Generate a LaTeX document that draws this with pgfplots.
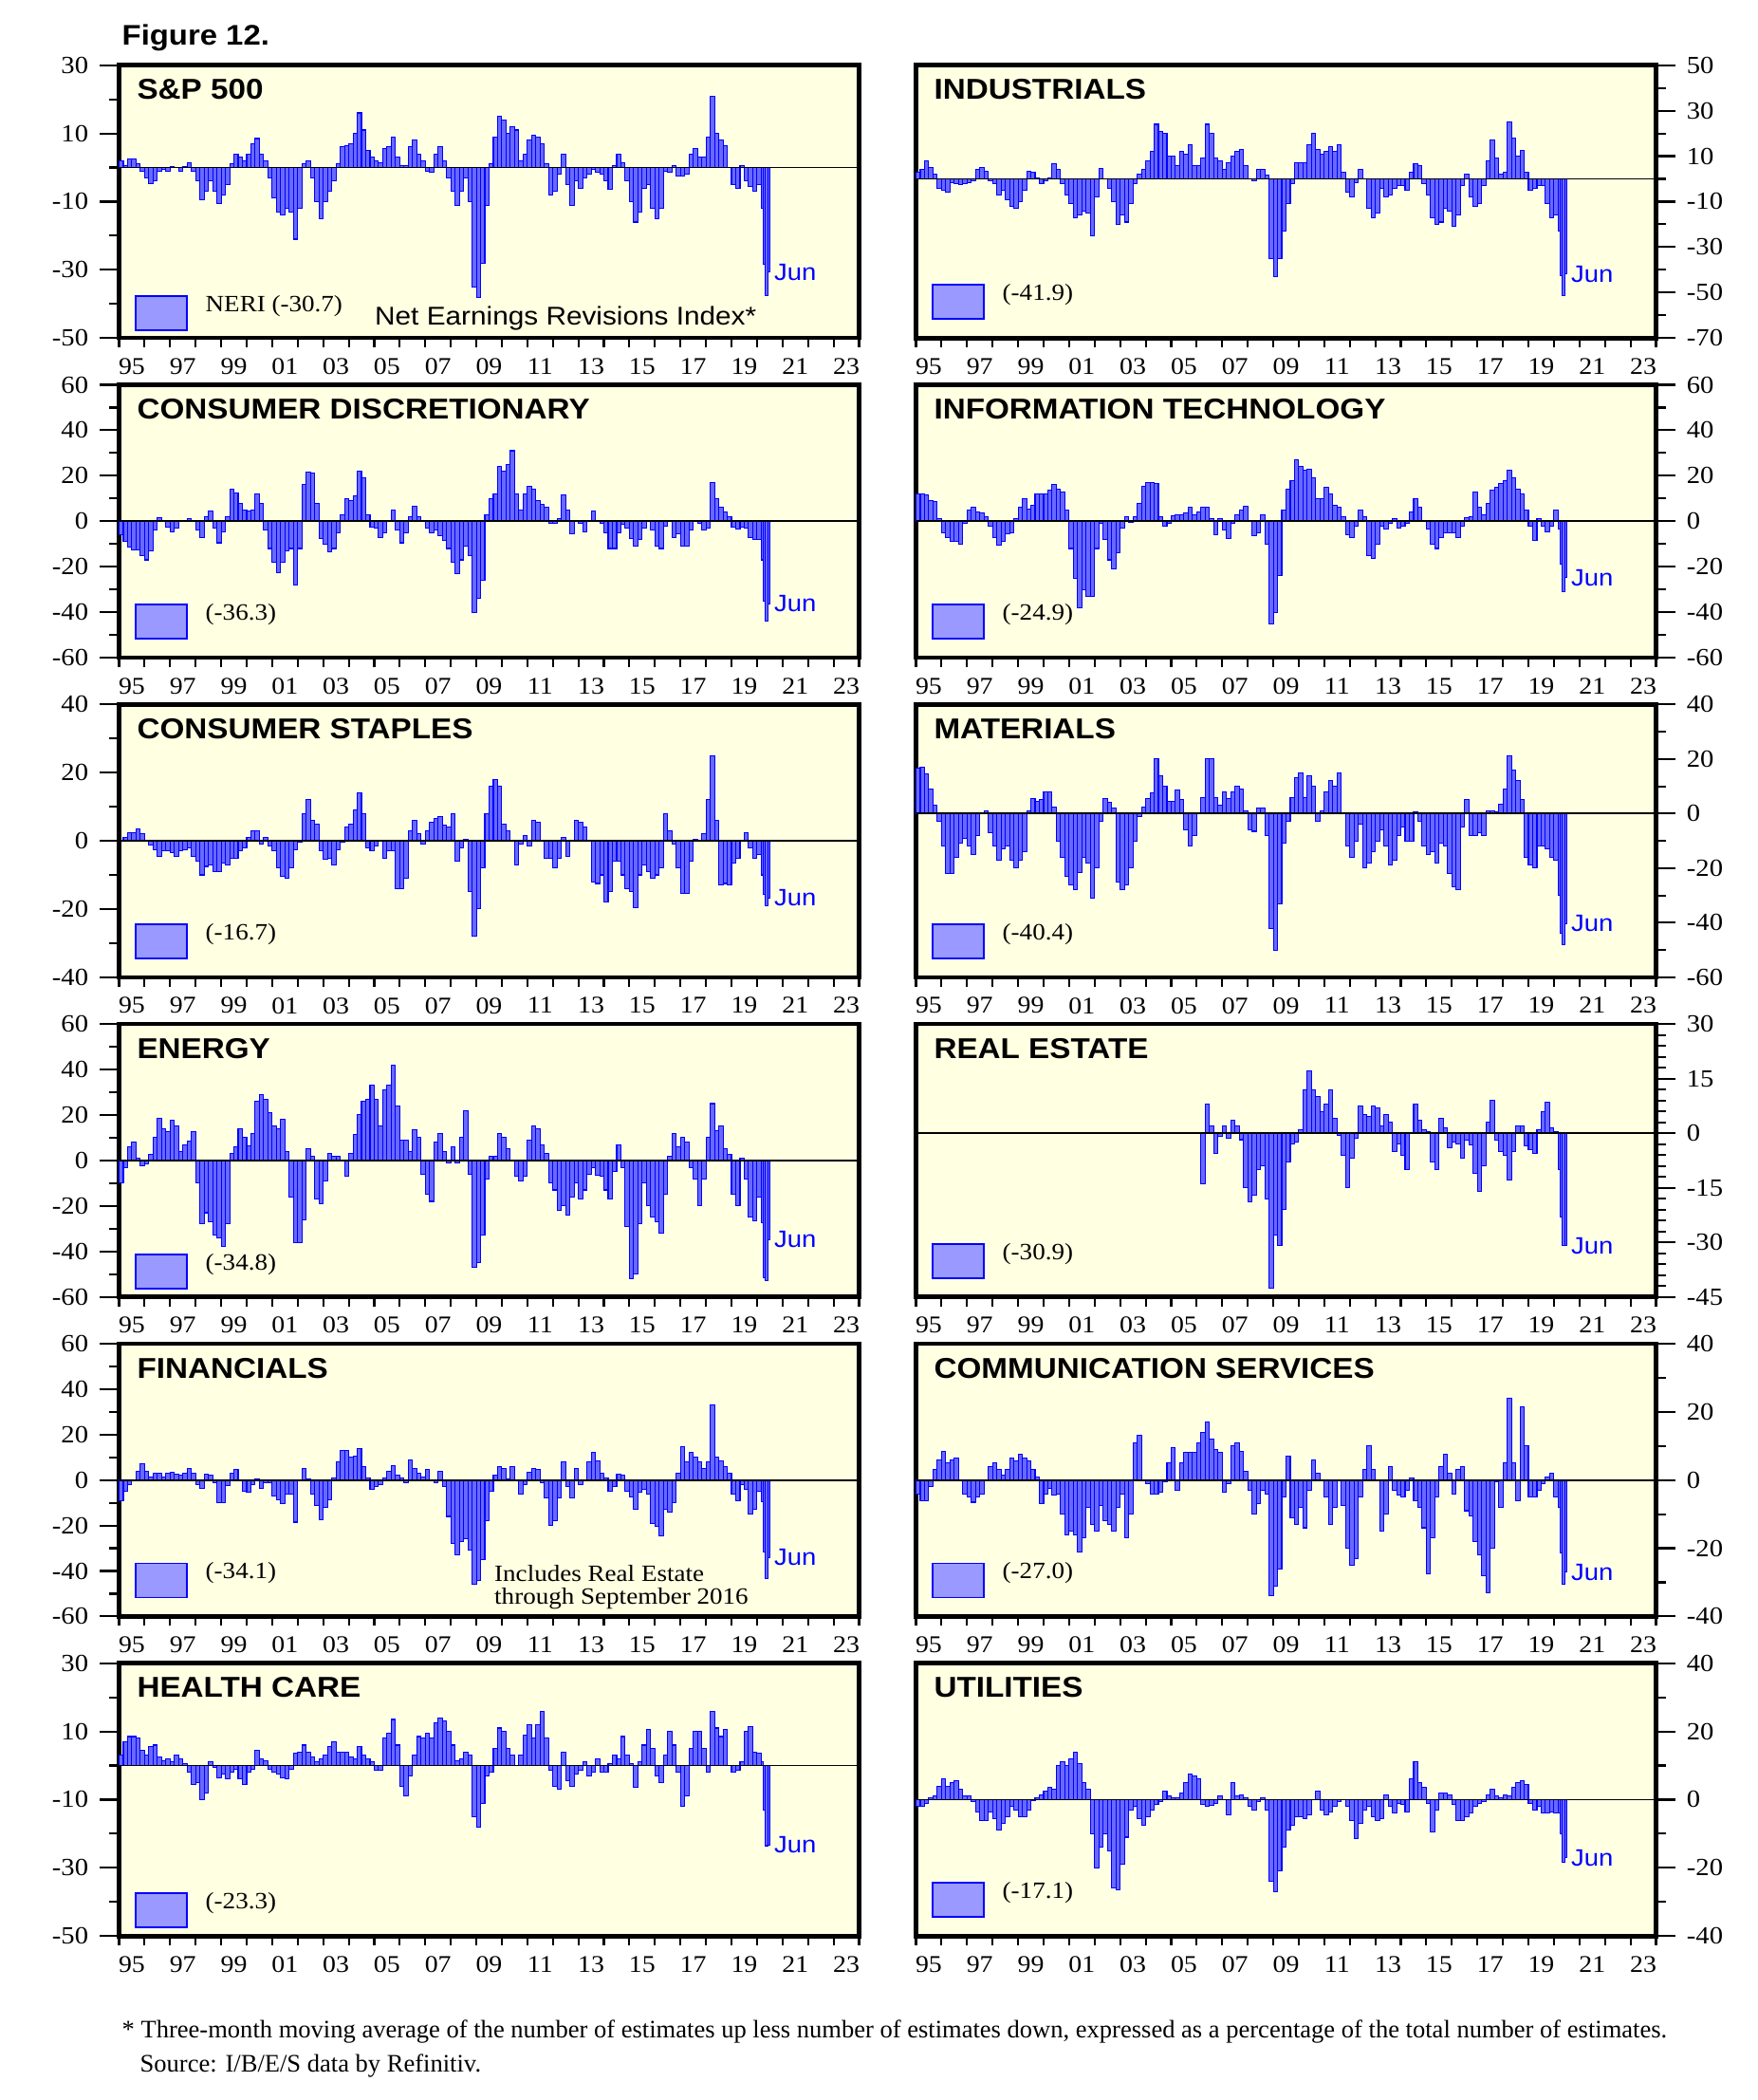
\documentclass[border=0pt]{standalone}
\usepackage{fontspec}
\setmainfont{Liberation Serif}[FakeStretch=1.1]
\newfontfamily\arial{Liberation Sans}[FakeStretch=1.1]
\newfontfamily\plainserif{Liberation Serif}
\usepackage{pgfplots}
\usepackage{pgfplotstable}
\pgfplotsset{compat=1.18}
\definecolor{bgy}{RGB}{255,255,226}
\definecolor{barfill}{RGB}{105,105,255}
\definecolor{legfill}{RGB}{153,153,255}

% bimonthly values, m = 0,2,...,300 (Jan 1995 ... Jan 2020), last row closes the interval
\pgfplotstableread[row sep=\\]{v\\
2\\0.5\\2.5\\2.5\\1\\-1\\
-3\\-4.8\\-4\\-1\\-0.5\\-1\\
0.3\\0\\-1\\0.3\\1.5\\-1\\
-4\\-9.5\\-7\\-4\\-7\\-10.5\\
-8\\-5\\1\\4\\3\\2\\
4\\7\\8.5\\4\\2\\-3\\
-9\\-13\\-14\\-12\\-13\\-21\\
-12\\1\\2\\-3\\-10\\-15\\
-10\\-7\\-4\\1\\6\\6.5\\
7\\10\\16\\11\\5\\3\\
2\\1.5\\5.5\\6\\9\\3\\
0.5\\0.5\\6\\8\\4\\2\\
-1\\-1.5\\4\\6\\2\\-3\\
-7\\-11\\-7\\-3\\-10\\-35\\
-38\\-28\\-11\\1\\9\\15\\
14\\10\\12\\11\\2\\4\\
8\\9.5\\9\\7\\1\\-8\\
-7\\-2\\4\\-5\\-11\\-4\\
-6\\-3\\-2\\-0.5\\-1.5\\-2\\
-4\\-6.5\\0.5\\4\\1.5\\-4\\
-10\\-16\\-13\\-6\\-5\\-12\\
-15\\-12\\-1\\-1.5\\0.5\\-2.5\\
-2.5\\-2\\4\\5.5\\3\\3\\
9\\21\\10\\8\\6.5\\0\\
-5\\-6\\0.5\\-4\\-5.5\\-7\\
-5\\0\\}\tSP

\pgfplotstableread[row sep=\\]{v\\
3\\4\\8\\5\\2\\-4\\
-5\\-6\\-1.5\\-2\\-2.5\\-2\\
-1.5\\-1\\4\\5\\3.5\\-1\\
-2\\-7\\-5\\-9\\-12\\-13\\
-10\\-5\\3.5\\3\\0.5\\-2\\
-1\\0.5\\6.5\\4\\-2\\-7\\
-11\\-17\\-16\\-14\\-15\\-25\\
-8\\4.5\\0\\-4\\-10\\-20\\
-16\\-19\\-11\\-2\\2\\4\\
8\\12\\24\\21\\20\\10\\
10\\6\\12\\11\\15\\6\\
6\\9\\24\\20\\9\\8\\
4\\7\\10\\12\\13\\6\\
0\\-1\\4\\4\\1.5\\-35\\
-43\\-35\\-23\\-11\\-2\\7\\
7\\7\\15\\20\\13\\11\\
12\\14\\12\\15\\3\\-6\\
-8\\-1.5\\4\\0\\-13\\-17\\
-15\\-4\\-8\\-7\\-4\\-3\\
-3\\-5\\3\\6.5\\6\\-2\\
-7\\-17\\-20\\-19\\-13\\-14\\
-21\\-16\\-3\\2\\-8\\-12\\
-11\\-3\\8\\17\\9\\2\\
3\\25\\18\\10\\12.5\\3\\
-5\\-4\\-3\\-3\\-11\\-17\\
-16\\0\\}\tIN

\pgfplotstableread[row sep=\\]{v\\
-6\\-9\\-11.5\\-12.5\\-12.5\\-15\\
-17\\-13\\-4\\1.5\\0\\-2.5\\
-4.5\\-3\\0\\0\\1\\0.5\\
-4\\-7\\2\\4.5\\-3\\-9.5\\
-4.5\\2\\14\\12.5\\8\\5\\
4.5\\5\\12\\8\\-4\\-12\\
-18\\-22.5\\-18\\-13\\-12\\-28\\
-12\\16\\21.5\\21\\8\\-7.5\\
-10\\-13.5\\-12\\-5\\3\\10\\
9\\11\\22\\19\\3\\-2.5\\
-3\\-7\\-5\\0\\5\\-4\\
-9.5\\-5\\2\\6.5\\2\\0\\
-3\\-5\\-4\\-6.5\\-8.5\\-12\\
-18\\-23\\-17\\-11\\-15\\-40\\
-34\\-26\\3\\10\\12\\24\\
22\\25\\31\\12\\5\\12\\
15.5\\14\\9\\7.5\\6\\-1\\
-1\\1\\11.5\\5\\-5.5\\0.5\\
-1\\-4.5\\0.5\\4.5\\0.5\\-1\\
-5\\-12\\-12\\-5\\-1.5\\-3\\
-7.5\\-11\\-8\\-3\\0.5\\-4\\
-11\\-12\\-2\\0.5\\-7\\-5.5\\
-11\\-11\\-4\\0.5\\-1\\-4\\
-3\\17\\10\\6\\4\\2\\
-2.5\\-3.5\\-2.5\\-3\\-7\\-8\\
-8\\0\\}\tCD

\pgfplotstableread[row sep=\\]{v\\
12\\12\\11.5\\9\\8.5\\1\\
-5\\-7\\-9\\-9\\-10\\-1\\
5\\6\\4\\3.5\\2\\-2\\
-7\\-10.5\\-9\\-5.5\\-5\\1\\
6\\10\\5.5\\7\\12\\12\\
12\\13.5\\16\\14\\13\\5\\
-12\\-25\\-38\\-30\\-33\\-33\\
-12\\-1\\-8\\-17\\-21\\-14\\
-3\\2\\-0.5\\2\\8\\15.5\\
17\\17\\16.5\\2\\-2\\-1\\
2.5\\3\\3\\3.5\\6\\3\\
4\\6\\6\\1\\-6\\1\\
-4\\-7.5\\-1\\3\\5\\6.5\\
0\\-6.5\\-5\\3\\-10\\-45\\
-40\\-24\\5\\14\\18\\27\\
24\\22.5\\23\\19\\10\\10\\
15\\12\\7\\6\\2\\-6\\
-7\\-2\\5\\2\\-15\\-16.5\\
-10\\-2\\-3.5\\-1\\1\\-3\\
-2\\-1\\4\\10\\6\\0\\
-3.5\\-10\\-12\\-7\\-5\\-5\\
-5\\-7\\-2\\1.5\\2\\13\\
6\\3\\8\\13.5\\15\\16.5\\
18\\22.5\\19\\14\\12\\5\\
-2\\-8.5\\1\\-2\\-4.5\\-2\\
5\\0\\}\tIT

\pgfplotstableread[row sep=\\]{v\\
0\\1\\2.5\\2.5\\3.5\\2\\
0\\-1.2\\-2.5\\-4.5\\-3\\-3\\
-3.5\\-4.5\\-3\\-2.5\\-2\\-4.5\\
-6\\-10\\-7.5\\-7\\-9\\-9\\
-6.5\\-7\\-5\\-5\\-3\\-2\\
1\\3\\3\\-1\\1\\-1.5\\
-3\\-8\\-10.5\\-11\\-8\\-2.5\\
-0.5\\8\\12\\6\\5\\-3\\
-5.5\\-5\\-7\\-2.5\\-0.5\\4\\
5\\9\\14\\8\\-2\\-3\\
-1.5\\0\\-5\\-3\\-3\\-14\\
-14\\-11\\3\\6\\2\\-1\\
3\\5.5\\6.5\\7\\4.5\\4\\
8\\-6\\-2\\0.5\\-15\\-28\\
-20\\-8\\8\\16\\18\\16\\
5\\3\\0\\-7\\-1\\1.5\\
-1.5\\6\\5.5\\0\\-5\\-5\\
-8\\-5\\1\\-4.5\\0\\6\\
5.5\\4\\0\\-12\\-12.5\\-10\\
-18\\-15\\-6\\-6\\-10\\-14\\
-15\\-19.5\\-10\\-7\\-9\\-11\\
-10\\-8\\8\\3\\-1\\-8\\
-15.5\\-15.5\\-6\\0.5\\0\\2\\
12\\25\\6\\-13\\-12.5\\-13\\
-6.5\\-5\\0\\2.5\\-2\\-5\\
-4\\0\\}\tCS

\pgfplotstableread[row sep=\\]{v\\
16.5\\17\\14.5\\9\\3\\-3\\
-12\\-22\\-22\\-16\\-11\\-9\\
-12\\-15\\-8\\0\\1\\-7\\
-12\\-17\\-13\\-12\\-17\\-20\\
-17\\-14\\1\\5.5\\4.5\\5\\
8\\8\\2.5\\-10\\-16\\-23\\
-26\\-28\\-21.5\\-16\\-18\\-31\\
-20\\-3\\5.5\\4\\2\\-25\\
-28\\-26\\-20\\-10\\-1\\2.5\\
5.5\\7.5\\20\\14\\10\\4.5\\
4.5\\8.5\\5\\-6\\-12\\-8\\
0\\6\\20\\20\\6\\3\\
8\\5.5\\8\\10\\9\\1\\
-6\\-6.5\\2\\2\\-8\\-42\\
-50\\-33\\-11\\-3\\6\\13\\
15\\6\\14\\10\\-3\\1\\
8\\12\\10\\15\\0\\-12\\
-16\\-10\\-4\\-20\\-18\\-14\\
-10\\-6\\-12\\-19\\-17\\-8\\
-5\\-10\\-10\\0.5\\-3\\-12\\
-15\\-14\\-18\\-11\\-12\\-22\\
-27\\-28\\-5\\5\\-8\\-8\\
-7\\-8\\1\\1\\0.5\\3.5\\
9\\21\\16\\12\\5\\-16\\
-19\\-20\\-12\\-12\\-13\\-16\\
-17\\0\\}\tMA

\pgfplotstableread[row sep=\\]{v\\
-10\\-3\\6\\8\\1\\-2.5\\
-1.5\\2.5\\10\\18.5\\14\\12.5\\
17.5\\15\\4\\7\\8.5\\12.5\\
-10\\-28\\-23\\-27\\-33\\-34\\
-38\\-28\\3\\6\\14\\10\\
6.5\\12\\26\\29\\27\\21\\
15\\14\\18\\4\\-16\\-36\\
-36\\-26\\5\\2\\-17\\-19\\
-9\\3\\2\\2\\0\\-7\\
3\\11.5\\20\\26\\27\\33\\
27\\15\\31\\33\\42\\24\\
9\\9\\4\\13.5\\10\\-6\\
-15\\-18\\8\\12\\4\\-1\\
6\\-1\\10\\22\\-6\\-47\\
-45\\-33\\-8\\2\\2\\12\\
10\\5\\0\\-7\\-9\\-7\\
9\\15\\14\\7\\3\\-10\\
-13\\-22\\-20\\-24\\-16\\-10\\
-17\\-13\\-6\\-3\\-6.5\\-7\\
-13\\-17\\-5\\7\\-3\\-29\\
-52\\-50\\-28\\-10\\-20\\-25\\
-27\\-32\\-15\\2\\12\\6\\
10\\8\\-3\\-8\\-20\\-8\\
10\\25\\13\\15\\5\\2.5\\
-15\\-20\\1\\-8\\-25\\-26.5\\
-16\\0\\}\tEN

% Real Estate starts at m = 134 (Mar 2006)
\pgfplotstableread[row sep=\\]{v\\
-14\\8\\2\\-5.5\\-1\\
2\\-1.5\\3.5\\2\\-1.8\\-15\\
-19\\-17\\-10\\-9\\-18\\-42.5\\
-28\\-31\\-21\\-8\\-3\\-2.5\\
1\\12\\17\\12\\10\\6\\
8\\12\\4\\-0.5\\-6\\-15\\
-7\\-1.5\\7.5\\5\\4.5\\7.5\\
7\\2\\5\\3\\-5\\-3\\
-6\\-10\\0\\8\\3.5\\1\\
0.5\\-8\\-10\\4\\1.5\\-4\\
-2.5\\-3\\-7\\-2\\-3.2\\-11\\
-16\\-9\\3\\9\\-2\\-5\\
-6\\-13\\-5\\2\\2\\-3.5\\
-4.5\\-5.5\\1\\6\\8.5\\1.5\\
0.5\\0\\}\tRE

\pgfplotstableread[row sep=\\]{v\\
-9\\-5\\-2\\-0.5\\4\\7\\
4\\1.5\\3\\3\\1.5\\3\\
3.5\\2.5\\2\\3\\5\\3\\
-2\\-3.5\\2.5\\2\\-1\\-10\\
-10\\-2.5\\3\\4.5\\0\\-5\\
-5.5\\-2\\0.5\\-3.5\\-1\\-1\\
-7\\-8.5\\-10.5\\-6\\-6\\-18.5\\
0\\5\\0.5\\-6\\-11\\-17.5\\
-12\\-8.5\\1\\8\\13\\13\\
10\\10.5\\14\\6\\1\\-4\\
-3\\-2\\1\\4\\6.5\\2\\
1\\-1\\9\\5\\3\\1.5\\
4.5\\0\\-1\\4\\-3\\-16\\
-28\\-33\\-27\\-26\\-31\\-46\\
-44\\-35\\-18\\-5\\2\\6\\
5\\0.5\\6\\0\\-6\\-2\\
3.5\\5\\4.5\\-1\\-8\\-20\\
-18\\-8\\8\\-3\\-8\\5\\
-2\\0\\8\\12\\8.5\\3\\
1\\-5\\-3\\2.5\\2\\-5\\
-7.5\\-13\\-5.5\\-4\\-6\\-19\\
-20.5\\-24.5\\-13\\-14\\-10\\3\\
14.5\\8\\12\\10\\8\\5\\
8\\33\\10\\8.5\\6\\3\\
-6\\-9\\-2\\-4\\-15\\-13\\
-5\\0\\}\tFI

\pgfplotstableread[row sep=\\]{v\\
-4\\-6\\-6\\-2\\3\\6\\
8.5\\5\\6\\6.5\\0\\-4\\
-5\\-6.5\\-5\\-4\\0\\4\\
5\\3\\1.5\\3\\6.5\\5.5\\
7.5\\6.5\\5.5\\3\\1\\-7\\
-4\\-2.5\\-4.5\\-4\\-10\\-16\\
-15\\-16\\-21\\-17\\-8\\-13\\
-15\\-7.5\\-12\\-13\\-15\\-8\\
-4\\-17\\-10\\11\\13\\0\\
-1\\-4\\-4\\-3.5\\-0.5\\5\\
9.5\\-3\\5\\8\\8\\8\\
11\\14\\17\\12\\9\\8\\
-3.5\\-1\\10\\11\\8.5\\2.5\\
-3\\-10\\-7\\-3\\-4\\-34\\
-31\\-26\\-5\\7\\-11\\-13\\
-8\\-14\\-3\\6\\2\\0\\
-5\\-13\\-8\\0\\-7.5\\-20\\
-25\\-23\\-5\\3\\10\\3\\
0\\-15\\-10\\4\\-3\\-4.5\\
-5\\-3\\0.5\\-6\\-8\\-14\\
-27.5\\-17\\-5\\4\\7.5\\2\\
-4\\3\\4\\-9\\-10.5\\-18\\
-22\\-28\\-33\\-20\\-0.5\\-8\\
5\\24\\5\\-6\\21.5\\10\\
-5\\-5\\-3\\-1\\1\\2\\
-5\\0\\}\tCO

\pgfplotstableread[row sep=\\]{v\\
3\\7\\8.5\\8.5\\8\\4.5\\
3\\5.5\\6\\2.5\\1.5\\2\\
1\\3\\2\\0.5\\-2\\-5.5\\
-5\\-10\\-8\\1\\-0.5\\-3.5\\
-2.5\\-4\\-2\\-1\\-4\\-5.5\\
-2\\-1\\4.5\\2\\1.5\\-1\\
-2\\-2.5\\-3.5\\-4\\-1\\3.5\\
4\\6\\4\\2.5\\1\\2\\
3\\5.5\\7\\4\\4\\4\\
2.5\\2\\5.5\\3\\2\\1\\
-1.5\\-1.5\\8\\9.5\\13.5\\6\\
-6\\-9\\-3\\3\\8.5\\8\\
9.5\\8\\12.5\\14\\13\\10\\
6\\1.5\\2\\4\\3\\-15\\
-18\\-11\\-3\\-2\\5\\11\\
10\\5\\3\\0\\3\\9\\
12\\8\\12\\16\\8\\-1.5\\
-6\\-7\\4\\-4.5\\-6\\-2.5\\
-1.5\\1\\-3\\-2\\2\\-2\\
-2\\0.5\\3\\2\\8.5\\3\\
0.5\\-6.5\\1\\6\\10.5\\5\\
-3\\-5\\3\\10\\6\\-2\\
-12\\-9\\5\\10\\10\\5\\
-2\\16\\11\\8.5\\10.5\\0\\
-2\\-1.5\\1\\10\\11.5\\4\\
3.5\\0\\}\tHC

\pgfplotstableread[row sep=\\]{v\\
-2\\-2\\-1\\0.5\\1\\4\\
6\\4\\5\\5.5\\3\\1\\
1\\-0.5\\-3.5\\-6\\-6\\-3.5\\
-5.5\\-9\\-7\\-5\\-2\\-3\\
-5\\-5\\-3\\-0.3\\0.5\\1.5\\
2.5\\3.5\\3\\10\\11\\10\\
12\\14\\10.5\\5\\3\\-10\\
-20\\-14\\-10\\-15\\-26\\-26.5\\
-19\\-11\\-3\\-2\\-5.5\\-7.5\\
-5\\-3\\-1.5\\-0.5\\2.5\\1\\
0.5\\0.5\\2\\5\\7.5\\7\\
6\\-1.5\\-2\\-1.8\\-1\\1\\
0\\-4.5\\5\\1\\1.5\\0.5\\
-2\\-3\\-0.5\\0.5\\-3\\-24\\
-27\\-21\\-14\\-9\\-7.5\\-5\\
-5\\-5.5\\-4.5\\0\\2.5\\-3\\
-4.5\\-3.5\\-2\\-0.5\\0\\-2\\
-6\\-11.5\\-7\\-3\\-2\\-5\\
-6\\-5.5\\1.5\\-2\\-4\\-1\\
-1.5\\-3.5\\6\\11\\5\\3.5\\
-1\\-9.5\\-3\\2\\2\\1.5\\
-1.5\\-6\\-6\\-5\\-4\\-2\\
-1.2\\-0.5\\1.5\\3\\1\\0.5\\
1.5\\1\\3.5\\5\\5.5\\4.5\\
-1\\-3\\-2\\-4\\-4\\-3.5\\
-4\\0\\}\tUT

\newcommand\titlefont{\arial\bfseries\fontsize{8.6}{10}\selectfont}
\newcommand\junfont{\arial\fontsize{7.1}{8}\selectfont}
\newcommand\legfont{\fontsize{7}{8}\selectfont}

\pgfplotsset{
  neri/.style={
    scale only axis, width=78mm, height=28.75mm,
    xmin=0, xmax=348,
    axis background/.style={fill=bgy},
    axis line style={line width=1.3pt},
    tick align=outside,
    xtick pos=bottom,
    xtick={6,30,...,342},
    xticklabels={95,97,99,01,03,05,07,09,11,13,15,17,19,21,23},
    minor xtick={0,12,...,348},
    tick style={black, line width=0.6pt},
    major x tick style={draw=none},
    major tick length=2mm, minor tick length=1mm,
    xticklabel style={font=\fontsize{7.2}{8}\selectfont, yshift=1.1mm},
    yticklabel style={font=\fontsize{7.4}{8}\selectfont},
    /pgf/number format/assume math mode=true,
    clip=false,
  },
  L/.style={neri, ytick pos=left},
  R/.style={neri, ytick pos=right, yticklabel pos=right},
  bars/.style={ybar interval, fill=barfill, draw=blue, line width=0.3pt},
}

\newcommand\zeroline{\addplot[black, line width=0.5pt, forget plot] coordinates {(0,0) (348,0)};}
\newcommand\ptitle[1]{\node[anchor=base west, inner sep=0, font=\titlefont] at ([xshift=1.83mm,yshift=-3.62mm]rel axis cs:0,1) {#1};}
\newcommand\legbox[2]{%
  \draw[fill=legfill, draw=blue, line width=0.5pt] ([xshift=1.72mm,yshift=#1]rel axis cs:0,0) rectangle ([xshift=7.13mm,yshift={#1+3.6mm}]rel axis cs:0,0);
  \node[anchor=west, inner sep=0, font=\legfont] at ([xshift=9.05mm,yshift={#1+2.55mm}]rel axis cs:0,0) {#2};}
\newcommand\jun[1]{\node[anchor=west, inner sep=0.4mm, text=blue, font=\junfont] at (axis cs:306,#1) {Jun};}

\begin{document}
\begin{tikzpicture}
\path[use as bounding box] (0,0) rectangle (185.3mm,-221.3mm);
\node[anchor=base west, inner sep=0, font=\arial\bfseries\fontsize{8.5}{10}\selectfont] at (12.8mm,-4.7mm) {Figure 12.};

% ---- Row 1
\begin{axis}[L, at={(12.55mm,-6.87mm)}, anchor=north west, ymin=-50, ymax=30, ytick={-50,-30,...,30}, minor ytick={-40,-20,...,20}]
\addplot[bars] table[x expr=2*\coordindex, y=v]{\tSP};
\addplot[bars] coordinates {(302,-12) (303,-28.5) (304,-37.6) (305,-30.7) (306,0)};
\zeroline
\ptitle{S\&P 500}
\legbox{0.85mm}{NERI (-30.7)}
\jun{-30.7}
\node[anchor=base west, inner sep=0, font=\arial\fontsize{7.7}{9}\selectfont] at ([xshift=26.9mm,yshift=1.4mm]rel axis cs:0,0) {Net Earnings Revisions Index*};
\end{axis}

\begin{axis}[R, at={(96.55mm,-6.87mm)}, anchor=north west, ymin=-70, ymax=50, ytick={-70,-50,...,50}, minor ytick={-60,-40,...,40}]
\addplot[bars] table[x expr=2*\coordindex, y=v]{\tIN};
\addplot[bars] coordinates {(302,-23) (303,-42.5) (304,-51.5) (305,-41.9) (306,0)};
\zeroline
\ptitle{INDUSTRIALS}
\legbox{2mm}{(-41.9)}
\jun{-41.9}
\end{axis}

% ---- Row 2
\begin{axis}[L, at={(12.55mm,-40.55mm)}, anchor=north west, ymin=-60, ymax=60, ytick={-60,-40,...,60}, minor ytick={-50,-30,...,50}]
\addplot[bars] table[x expr=2*\coordindex, y=v]{\tCD};
\addplot[bars] coordinates {(302,-17) (303,-35) (304,-44) (305,-36.3) (306,0)};
\zeroline
\ptitle{CONSUMER DISCRETIONARY}
\legbox{2mm}{(-36.3)}
\jun{-36.3}
\end{axis}

\begin{axis}[R, at={(96.55mm,-40.55mm)}, anchor=north west, ymin=-60, ymax=60, ytick={-60,-40,...,60}, minor ytick={-50,-30,...,50}]
\addplot[bars] table[x expr=2*\coordindex, y=v]{\tIT};
\addplot[bars] coordinates {(302,-3.5) (303,-19) (304,-31) (305,-24.9) (306,0)};
\zeroline
\ptitle{INFORMATION TECHNOLOGY}
\legbox{2mm}{(-24.9)}
\jun{-24.9}
\end{axis}

% ---- Row 3
\begin{axis}[L, at={(12.55mm,-74.23mm)}, anchor=north west, ymin=-40, ymax=40, ytick={-40,-20,...,40}, minor ytick={-30,-10,...,30}]
\addplot[bars] table[x expr=2*\coordindex, y=v]{\tCS};
\addplot[bars] coordinates {(302,-10) (303,-15.7) (304,-19) (305,-16.7) (306,0)};
\zeroline
\ptitle{CONSUMER STAPLES}
\legbox{2mm}{(-16.7)}
\jun{-16.7}
\end{axis}

\begin{axis}[R, at={(96.55mm,-74.23mm)}, anchor=north west, ymin=-60, ymax=40, ytick={-60,-40,...,40}, minor ytick={-50,-30,...,30}]
\addplot[bars] table[x expr=2*\coordindex, y=v]{\tMA};
\addplot[bars] coordinates {(302,-30) (303,-44) (304,-48) (305,-40.4) (306,0)};
\zeroline
\ptitle{MATERIALS}
\legbox{2mm}{(-40.4)}
\jun{-40.4}
\end{axis}

% ---- Row 4
\begin{axis}[L, at={(12.55mm,-107.91mm)}, anchor=north west, ymin=-60, ymax=60, ytick={-60,-40,...,60}, minor ytick={-50,-30,...,50}]
\addplot[bars] table[x expr=2*\coordindex, y=v]{\tEN};
\addplot[bars] coordinates {(302,-27.5) (303,-51.5) (304,-53) (305,-34.8) (306,0)};
\zeroline
\ptitle{ENERGY}
\legbox{0.9mm}{(-34.8)}
\jun{-34.8}
\end{axis}

\begin{axis}[R, at={(96.55mm,-107.91mm)}, anchor=north west, ymin=-45, ymax=30, ytick={-45,-30,...,30}, minor ytick={-42,-39,...,27}]
\addplot[bars] table[x expr=134+2*\coordindex, y=v]{\tRE};
\addplot[bars] coordinates {(302,-10) (303,-23) (304,-31) (305,-30.9) (306,0)};
\zeroline
\ptitle{REAL ESTATE}
\legbox{2mm}{(-30.9)}
\jun{-30.9}
\end{axis}

% ---- Row 5
\begin{axis}[L, at={(12.55mm,-141.59mm)}, anchor=north west, ymin=-60, ymax=60, ytick={-60,-40,...,60}, minor ytick={-50,-30,...,50}]
\addplot[bars] table[x expr=2*\coordindex, y=v]{\tFI};
\addplot[bars] coordinates {(302,-9.5) (303,-31.5) (304,-43.5) (305,-34.1) (306,0)};
\zeroline
\ptitle{FINANCIALS}
\legbox{2mm}{(-34.1)}
\jun{-34.1}
\node[anchor=base west, inner sep=0, font=\legfont] at ([xshift=39.5mm,yshift=3.7mm]rel axis cs:0,0) {Includes Real Estate};
\node[anchor=base west, inner sep=0, font=\legfont] at ([xshift=39.5mm,yshift=1.3mm]rel axis cs:0,0) {through September 2016};
\end{axis}

\begin{axis}[R, at={(96.55mm,-141.59mm)}, anchor=north west, ymin=-40, ymax=40, ytick={-40,-20,...,40}, minor ytick={-30,-10,...,30}]
\addplot[bars] table[x expr=2*\coordindex, y=v]{\tCO};
\addplot[bars] coordinates {(302,-8) (303,-21.5) (304,-30.5) (305,-27) (306,0)};
\zeroline
\ptitle{COMMUNICATION SERVICES}
\legbox{2mm}{(-27.0)}
\jun{-27}
\end{axis}

% ---- Row 6
\begin{axis}[L, at={(12.55mm,-175.27mm)}, anchor=north west, ymin=-50, ymax=30, ytick={-50,-30,...,30}, minor ytick={-40,-20,...,20}]
\addplot[bars] table[x expr=2*\coordindex, y=v]{\tHC};
\addplot[bars] coordinates {(302,1) (303,-13) (304,-23.5) (305,-23.3) (306,0)};
\zeroline
\ptitle{HEALTH CARE}
\legbox{0.9mm}{(-23.3)}
\jun{-23.3}
\end{axis}

\begin{axis}[R, at={(96.55mm,-175.27mm)}, anchor=north west, ymin=-40, ymax=40, ytick={-40,-20,...,40}, minor ytick={-30,-10,...,30}]
\addplot[bars] table[x expr=2*\coordindex, y=v]{\tUT};
\addplot[bars] coordinates {(302,-4) (303,-10) (304,-18.5) (305,-17.1) (306,0)};
\zeroline
\ptitle{UTILITIES}
\legbox{2mm}{(-17.1)}
\jun{-17.1}
\end{axis}

\node[anchor=base west, inner sep=0, font=\plainserif\fontsize{7.55}{10}\selectfont] at (12.8mm,-214.7mm) {* Three-month moving average of the number of estimates up less number of estimates down, expressed as a percentage of the total number of estimates.};
\node[anchor=base west, inner sep=0, font=\plainserif\fontsize{7.55}{10}\selectfont] at (14.7mm,-218.3mm) {Source: I/B/E/S data by Refinitiv.};
\end{tikzpicture}
\end{document}
